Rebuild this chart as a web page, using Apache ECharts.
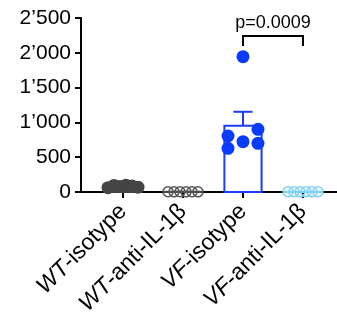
<!DOCTYPE html>
<html>
<head>
<meta charset="utf-8">
<script src="https://cdn.jsdelivr.net/npm/echarts@6/dist/echarts.min.js"></script>
<style>
  html, body { margin: 0; padding: 0; background: #fff; }
  #chart { width: 337px; height: 320px; }
</style>
</head>
<body>
<div id="chart"></div>
<script>
// Groups: italic genotype prefix + treatment
const groupPrefix = ['WT', 'WT', 'VF', 'VF'];
const groupSuffix = ['-isotype', '-anti-IL-1\u03B2', '-isotype', '-anti-IL-1\u03B2'];

// Per-animal values for each group
const wtIsotype = [62, 95, 80, 98, 85, 70];
const wtAnti = [3, 2, 4, 2, 3, 2];
const vfIsotype = [1944, 805, 628, 723, 901, 700];
const vfAnti = [2, 3, 2, 3, 2, 3];

// Horizontal spread of the dots within each group (category units)
const spreadRow = [-0.25, -0.15, -0.05, 0.05, 0.15, 0.25];
const spreadVF = [0, -0.25, -0.25, 0, 0.25, 0.25];

// Y axis ticks
const yTicks = [0, 500, 1000, 1500, 2000, 2500];

// Comparison annotation
const compareFrom = 2, compareTo = 3, compareLevel = 2240, compareText = 'p=0.0009';

const groups = [wtIsotype, wtAnti, vfIsotype, vfAnti];
const spreads = [spreadRow, spreadRow, spreadVF, spreadRow];
const barColors = ['#3f3f3f', '#4a4a4a', '#1a3cff', '#7fd0f5'];

function mean(a) { return a.reduce((s, v) => s + v, 0) / a.length; }
function sem(a) {
  const m = mean(a);
  const sd = Math.sqrt(a.reduce((s, v) => s + (v - m) * (v - m), 0) / (a.length - 1));
  return sd / Math.sqrt(a.length);
}
const barData = groups.map((g, i) => [i, mean(g), mean(g) + sem(g)]);

function pts(i) { return groups[i].map((v, k) => [i + spreads[i][k], v]); }

function fmtThousands(v) {
  return String(v).replace(/\B(?=(\d{3})+(?!\d))/g, '\u2019');
}

const chart = echarts.init(document.getElementById('chart'));
const FONT = '"Liberation Sans", Arial, Helvetica, sans-serif';

chart.setOption({
  animation: false,
  backgroundColor: '#fff',
  grid: { left: 81, right: 0, top: 18, bottom: 128 },
  xAxis: {
    type: 'value',
    min: -0.7,
    max: 3.567,
    splitLine: { show: false },
    axisLine: { onZero: false, lineStyle: { color: '#000', width: 2 } },
    axisTick: { show: true, length: 6, inside: false, customValues: [0, 1, 2, 3], lineStyle: { color: '#000', width: 2 } },
    axisLabel: {
      customValues: [0, 1, 2, 3],
      rotate: 45,
      margin: 16,
      fontFamily: FONT,
      fontSize: 23,
      color: '#000',
      formatter: v => '{i|' + groupPrefix[Math.round(v)] + '}' + groupSuffix[Math.round(v)],
      rich: { i: { fontStyle: 'italic', fontFamily: FONT, fontSize: 23, color: '#000' } }
    }
  },
  yAxis: {
    type: 'value',
    min: yTicks[0],
    max: yTicks[yTicks.length - 1],
    interval: 500,
    splitLine: { show: false },
    axisLine: { show: true, onZero: false, lineStyle: { color: '#000', width: 2 } },
    axisTick: { show: true, length: 6, lineStyle: { color: '#000', width: 2 } },
    axisLabel: { margin: 10, fontFamily: FONT, fontSize: 21, color: '#000', formatter: fmtThousands }
  },
  series: [
    {
      type: 'custom',
      data: barData,
      z: 2,
      renderItem: function (params, api) {
        const x = api.value(0), m = api.value(1), top = api.value(2);
        const color = barColors[params.dataIndex];
        const l = api.coord([x - 0.31, m]);
        const r = api.coord([x + 0.31, 0]);
        const c = api.coord([x, m]);
        const t = api.coord([x, top]);
        const capL = api.coord([x - 0.16, top]);
        const capR = api.coord([x + 0.16, top]);
        return {
          type: 'group',
          children: [
            { type: 'rect', shape: { x: l[0], y: l[1], width: r[0] - l[0], height: r[1] - l[1] },
              style: { fill: 'none', stroke: color, lineWidth: 2 } },
            { type: 'line', shape: { x1: c[0], y1: c[1], x2: t[0], y2: t[1] }, style: { stroke: color, lineWidth: 2 } },
            { type: 'line', shape: { x1: capL[0], y1: capL[1], x2: capR[0], y2: capR[1] }, style: { stroke: color, lineWidth: 2 } }
          ]
        };
      }
    },
    { type: 'scatter', data: pts(0), symbol: 'circle', symbolSize: 13, z: 3,
      itemStyle: { color: '#444444', opacity: 1 } },
    { type: 'scatter', data: pts(1), symbol: 'circle', symbolSize: 10, z: 3,
      itemStyle: { color: 'rgba(255,255,255,0)', borderColor: '#555555', borderWidth: 1.5, opacity: 1 } },
    { type: 'scatter', data: pts(2), symbol: 'circle', symbolSize: 13, z: 3,
      itemStyle: { color: '#0a3cff', opacity: 1 } },
    { type: 'scatter', data: pts(3), symbol: 'circle', symbolSize: 10, z: 3,
      itemStyle: { color: 'rgba(255,255,255,0)', borderColor: '#7fd0f5', borderWidth: 1.5, opacity: 1 } },
    {
      type: 'custom',
      data: [[compareFrom, compareTo, compareLevel]],
      z: 4,
      renderItem: function (params, api) {
        const a = api.coord([api.value(0), api.value(2)]);
        const b = api.coord([api.value(1), api.value(2)]);
        const drop = 10;
        return {
          type: 'group',
          children: [
            { type: 'polyline', shape: { points: [[a[0], a[1] + drop], a, b, [b[0], b[1] + drop]] },
              style: { fill: 'none', stroke: '#000', lineWidth: 2 } },
            { type: 'text', x: (a[0] + b[0]) / 2, y: a[1] - 4,
              style: { text: compareText, fontFamily: FONT, fontSize: 18, fill: '#000', align: 'center', verticalAlign: 'bottom' } }
          ]
        };
      }
    }
  ]
});
</script>
</body>
</html>
